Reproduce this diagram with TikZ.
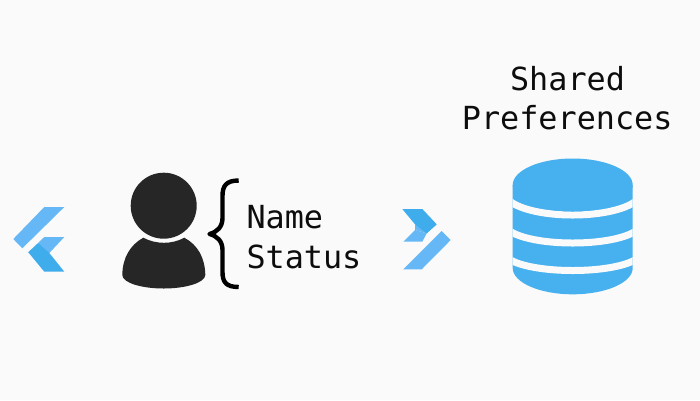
\documentclass[tikz,border=0pt]{standalone}
\usepackage{fontspec}
\setmonofont{DejaVu Sans Mono}
\definecolor{bgc}{HTML}{FAFAFA}
\definecolor{dbc}{HTML}{47B0EE}
\definecolor{inkc}{HTML}{262626}
\definecolor{lightc}{HTML}{65B7F5}
\definecolor{darkc}{HTML}{3FACEB}
\tikzset{
  label text/.style={inner sep=0pt,font=\ttfamily\fontsize{31.8}{36}\selectfont,text=black!95},
  gap/.style={draw=bgc,line width=7pt}
}
\begin{document}
\begin{tikzpicture}[x=1pt,y=-1pt]
\path[use as bounding box,fill=bgc] (0,0) rectangle (700,400);
% left logo
\fill[lightc] (64.3,207) -- (44.3,207) -- (13.3,239) -- (22.3,248.3) -- cycle;
\fill[lightc] (44.3,237) -- (64.3,237) -- (49.3,253) -- (28.3,252.3) -- cycle;
\fill[darkc] (28.3,252.3) -- (38.3,243.3) -- (49.3,253) -- (64.3,271.7) -- (44.3,271.7) -- cycle;
% person
\fill[inkc] (163.7,205.7) circle[radius=33];
\fill[inkc] (143.3,237.7) .. controls (156,244.5) and (172,244.5) .. (184.3,237.7)
  .. controls (198,245) and (205,258) .. (205.3,275)
  .. controls (205,283) and (185,288.5) .. (163.7,288.5)
  .. controls (142,288.5) and (122.5,283) .. (122.3,275)
  .. controls (122.5,258) and (130,245) .. (143.3,237.7) -- cycle;
% brace
\draw[black,line width=4.4pt,line join=round] (238.7,180.5) .. controls (226,180.5) and (222.5,186) .. (222.5,196)
  -- (222.5,218) .. controls (222.5,227) and (217,232) .. (209.5,234)
  .. controls (217,236) and (222.5,241) .. (222.5,250)
  -- (222.5,272) .. controls (222.5,282) and (226,287) .. (238.7,287);
\node[label text,anchor=base west] (name) at (246.3,228.3) {Name};
\node[label text,anchor=base west] (status) at (246.3,268.3) {Status};
\node[label text,anchor=base] (shared) at (567.5,90.7) {Shared};
\node[label text,anchor=base] (prefs) at (567.2,129) {Preferences};
% right logo
\fill[lightc] (403.3,241.7) -- (415,230) -- (426.7,233.3) -- (422.3,241.7) -- cycle;
\fill[lightc] (415,224.3) -- (436.7,224.3) -- (426.7,233.3) -- (415,230) -- cycle;
\fill[darkc] (402.3,209) -- (422.3,209) -- (436.7,224.3) -- (426.7,233.3) -- (415,224.3) -- cycle;
\fill[lightc] (441.7,231) -- (450.7,240) -- (421.7,269.3) -- (403.3,269.3) -- cycle;
% database
\fill[dbc] (512.7,185) -- (632.7,185) -- (632.7,268)
  arc[start angle=0,end angle=180,x radius=60,y radius=26.3] -- cycle;
\begin{scope}
\clip (512.7,150) rectangle (632.7,300);
\draw[gap] (505,193) arc[start angle=180,end angle=360,x radius=67.7,y radius=-22];
\draw[gap] (505,224) arc[start angle=180,end angle=360,x radius=67.7,y radius=-19];
\draw[gap] (505,253) arc[start angle=180,end angle=360,x radius=67.7,y radius=-17.5];
\end{scope}
\fill[dbc] (572.7,185) ellipse[x radius=60,y radius=26.5];
\end{tikzpicture}
\end{document}
